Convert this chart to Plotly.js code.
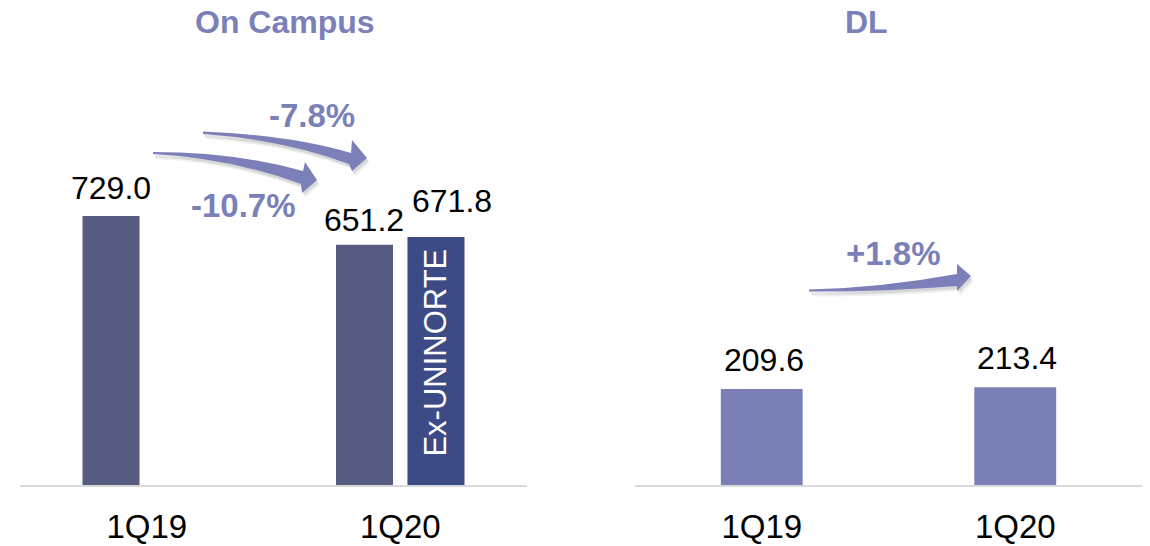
<!DOCTYPE html>
<html>
<head>
<meta charset="utf-8">
<script src="https://cdn.plot.ly/plotly-3.0.1.min.js"></script>
<style>html,body{margin:0;padding:0;background:#fff;}#chart{width:1150px;height:546px;}</style>
</head>
<body>
<div id="chart"></div>
<script>
// ---- data ----
const categories = ['1Q19', '1Q20'];
const onCampus = [729.0, 651.2];
const exUninorte = [null, 671.8];
const exUninorteText = ['', 'Ex-UNINORTE\u00a0'];
const dl = [209.6, 213.4];
const onCampusLabels = ['729.0', '651.2'];
const exUninorteLabels = ['', '671.8'];
const dlLabels = ['209.6', '213.4'];
const growthLabels = ['-10.7%', '-7.8%', '+1.8%'];
const panelTitles = ['On Campus', 'DL'];

// ---- layout helpers ----
const W = 1150, H = 546, TOP = 60, BASE = 485;
const FONT = 'Liberation Sans, Arial, Helvetica, sans-serif';
const px = x => x / W;
const py = y => (BASE - y) / (BASE - TOP);
const accent = '#7b80b8';

function pathStr(cmds) {
  return cmds.map(c => {
    const op = c[0];
    const pts = c.slice(1);
    let s = op;
    for (let i = 0; i < pts.length; i += 2) s += ' ' + px(pts[i]).toFixed(5) + ',' + py(pts[i + 1]).toFixed(5);
    return s;
  }).join(' ') + ' Z';
}
function shift(cmds, dx, dy) {
  return cmds.map(c => [c[0]].concat(c.slice(1).map((v, i) => i % 2 === 0 ? v + dx : v + dy)));
}
const arrows = [
  [['M', 153, 152], ['Q', 235, 152, 303, 171], ['L', 305, 162], ['L', 317, 180], ['L', 302, 193], ['L', 301, 184], ['Q', 230, 158, 153, 154]],
  [['M', 203, 131.5], ['Q', 290, 135, 351, 153], ['L', 352, 140], ['L', 367, 158], ['L', 352, 171], ['L', 349, 164], ['Q', 285, 140, 203, 134]],
  [['M', 809, 289.5], ['Q', 880, 288, 957, 274], ['L', 957, 264], ['L', 971, 276], ['L', 957, 291], ['L', 957, 286], ['Q', 880, 292, 809, 291.5]]
];
const shapes = [];
arrows.forEach(a => {
  shapes.push({type: 'path', xref: 'paper', yref: 'paper', path: pathStr(shift(a, 3, 5)), fillcolor: 'rgba(0,0,0,0.06)', line: {width: 0}, layer: 'above'});
  shapes.push({type: 'path', xref: 'paper', yref: 'paper', path: pathStr(shift(a, 1.5, 3)), fillcolor: 'rgba(0,0,0,0.10)', line: {width: 0}, layer: 'above'});
  shapes.push({type: 'path', xref: 'paper', yref: 'paper', path: pathStr(a), fillcolor: accent, line: {width: 0}, layer: 'above'});
});

// ---- traces ----
const traces = [
  {type: 'bar', x: categories, y: onCampus, xaxis: 'x', yaxis: 'y', marker: {color: '#565d80'},
   width: 0.225, offset: -0.2535, hoverinfo: 'skip'},
  {type: 'bar', x: categories, y: exUninorte, xaxis: 'x', yaxis: 'y', marker: {color: '#3c4a85'},
   width: 0.225, offset: 0.0285, text: exUninorteText, textposition: 'inside', insidetextanchor: 'end',
   textangle: -90, textfont: {family: FONT, size: 31, color: '#ffffff'}, cliponaxis: false, hoverinfo: 'skip'},
  {type: 'bar', x: categories, y: dl, xaxis: 'x2', yaxis: 'y2', marker: {color: '#7a7fb5'},
   width: 0.323, hoverinfo: 'skip'}
];

// ---- annotations ----
const ann = [];
const lblFont = {family: FONT, size: 32, color: '#000000'};
onCampusLabels.forEach((t, i) => ann.push({xref: 'x', yref: 'y', x: categories[i], y: onCampus[i], text: t, showarrow: false,
  xanchor: 'center', yanchor: 'bottom', xshift: -36, yshift: i === 0 ? 8 : 5, font: lblFont}));
exUninorteLabels.forEach((t, i) => { if (t) ann.push({xref: 'x', yref: 'y', x: categories[i], y: exUninorte[i], text: t, showarrow: false,
  xanchor: 'center', yanchor: 'bottom', xshift: 52, yshift: 16, font: lblFont}); });
dlLabels.forEach((t, i) => ann.push({xref: 'x2', yref: 'y2', x: categories[i], y: dl[i], text: t, showarrow: false,
  xanchor: 'center', yanchor: 'bottom', xshift: 2, yshift: 9, font: lblFont}));
const titleFont = {family: FONT, size: 32, color: accent};
ann.push({xref: 'paper', yref: 'paper', x: px(285), y: py(22), xanchor: 'center', yanchor: 'middle',
  text: '<b>' + panelTitles[0] + '</b>', showarrow: false, font: titleFont});
ann.push({xref: 'paper', yref: 'paper', x: px(866), y: py(22), xanchor: 'center', yanchor: 'middle',
  text: '<b>' + panelTitles[1] + '</b>', showarrow: false, font: titleFont});
const growthPos = [[243, 205], [312, 115], [893, 253]];
growthLabels.forEach((t, i) => ann.push({xref: 'paper', yref: 'paper', x: px(growthPos[i][0]), y: py(growthPos[i][1]),
  xanchor: 'center', yanchor: 'middle', text: '<b>' + t + '</b>', showarrow: false, font: {family: FONT, size: 33, color: accent}}));

const xax = d => ({domain: d, type: 'category', showgrid: false, zeroline: false, showline: true, linecolor: '#d9d9d9',
  linewidth: 2, ticks: '', ticklabelstandoff: 11, tickfont: {family: FONT, size: 33, color: '#000000'}, range: [-0.5, 1.5], fixedrange: true});
const yax = (r, anchor) => ({range: r, showgrid: false, zeroline: false, showline: false, showticklabels: false, anchor: anchor, fixedrange: true});

const layout = {
  width: W, height: H,
  margin: {l: 0, r: 0, t: TOP, b: H - BASE},
  paper_bgcolor: '#ffffff', plot_bgcolor: '#ffffff',
  barmode: 'overlay', showlegend: false,
  font: {family: FONT},
  xaxis: Object.assign(xax([20 / W, 527 / W]), {anchor: 'y'}),
  yaxis: yax([0, 1151.8], 'x'),
  xaxis2: Object.assign(xax([635 / W, 1142 / W]), {anchor: 'y2'}),
  yaxis2: yax([0, 927.8], 'x2'),
  annotations: ann,
  shapes: shapes
};
Plotly.newPlot('chart', traces, layout, {displayModeBar: false, staticPlot: true});
</script>
</body>
</html>
